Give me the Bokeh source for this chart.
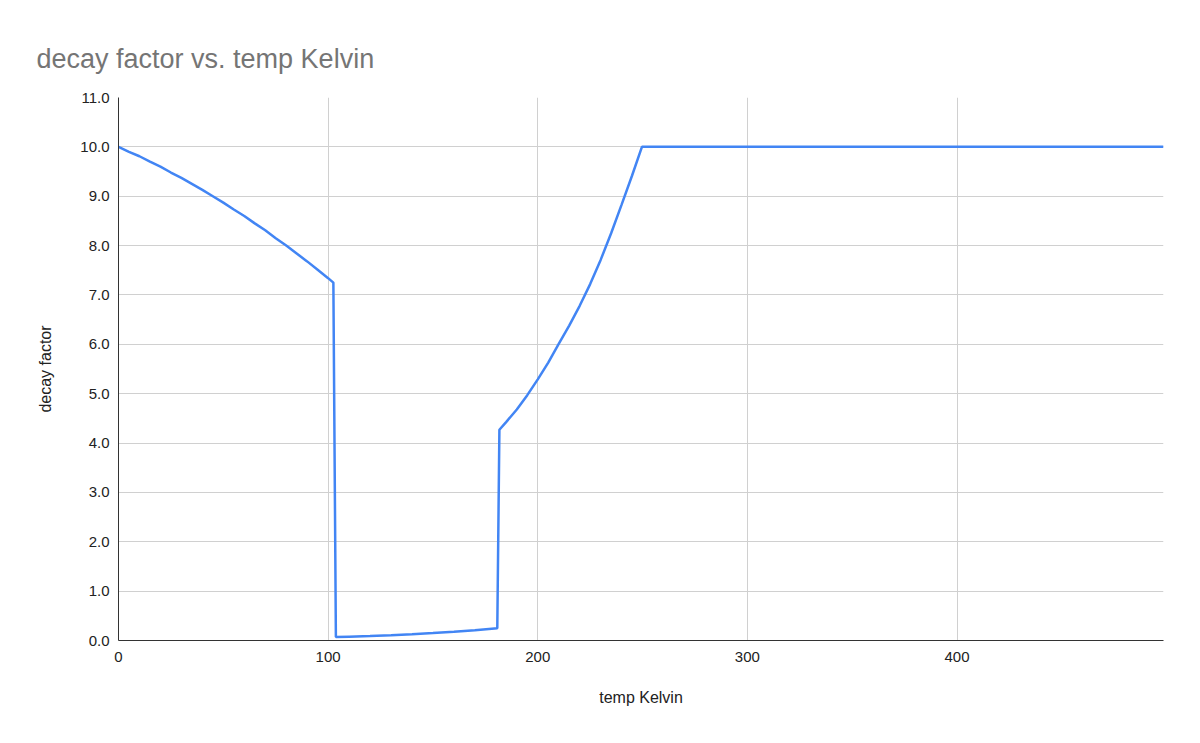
from bokeh.plotting import figure
from bokeh.models import Range1d, SingleIntervalTicker, FixedTicker, PrintfTickFormatter
from bokeh.embed import file_html
from bokeh.resources import INLINE

# data
temp_kelvin = [0, 5, 10, 15, 20, 25, 30, 35, 40, 45, 50, 55, 60, 65, 70, 75, 80, 85, 90, 95, 100, 102.5,
               103.7, 110, 120, 130, 140, 150, 160, 170, 180.7,
               181.7, 185, 190, 195, 200, 205, 210, 215, 220, 225, 230, 235, 240, 245, 249.7,
               498.5]
decay_factor = [10.0, 9.90, 9.81, 9.70, 9.60, 9.48, 9.37, 9.25, 9.13, 9.00, 8.87, 8.73, 8.60, 8.45,
                8.31, 8.15, 8.00, 7.84, 7.68, 7.51, 7.34, 7.25,
                0.07, 0.078, 0.091, 0.107, 0.127, 0.150, 0.176, 0.208, 0.25,
                4.27, 4.43, 4.68, 4.97, 5.29, 5.63, 6.01, 6.38, 6.78, 7.22, 7.71, 8.25, 8.83, 9.42, 10.0,
                10.0]
x_ticks = [0, 100, 200, 300, 400]

FONT = "Liberation Sans"

p = figure(width=1184, height=727, output_backend="svg", toolbar_location=None,
           x_range=Range1d(0, 498.5), y_range=Range1d(0, 11),
           min_border_left=118, min_border_right=21, min_border_top=97, min_border_bottom=87,
           title="decay factor vs. temp Kelvin")
p.outline_line_color = None
p.background_fill_color = "white"
p.border_fill_color = "white"

p.title.text_font = FONT
p.title.text_font_size = "27px"
p.title.text_font_style = "normal"
p.title.text_color = "#757575"
p.title.align = "left"
p.title.standoff = 48
p.title.offset = -82

p.line(temp_kelvin, decay_factor, line_color="#4285F4", line_width=2.5)

# axes
p.xaxis.ticker = FixedTicker(ticks=x_ticks)
p.yaxis.ticker = SingleIntervalTicker(interval=1)
p.yaxis.formatter = PrintfTickFormatter(format="%.1f")
p.xaxis.formatter = PrintfTickFormatter(format="%d")

for ax in (p.xaxis[0], p.yaxis[0]):
    ax.axis_line_color = "#333333"
    ax.axis_line_width = 1
    ax.major_tick_line_color = None
    ax.minor_tick_line_color = None
    ax.major_label_text_font = FONT
    ax.major_label_text_font_size = "15px"
    ax.major_label_text_color = "#222222"
    ax.axis_label_text_font = FONT
    ax.axis_label_text_font_size = "16px"
    ax.axis_label_text_font_style = "normal"
    ax.axis_label_text_color = "#222222"

p.xaxis.axis_label = "temp Kelvin"
p.yaxis.axis_label = "decay factor"
p.xaxis.major_label_standoff = 5
p.yaxis.major_label_standoff = 3
p.xaxis.axis_label_standoff = 24
p.yaxis.axis_label_standoff = 23

p.xgrid.grid_line_color = "#d0d0d0"
p.ygrid.grid_line_color = "#d0d0d0"
p.xgrid.ticker = FixedTicker(ticks=x_ticks)
p.ygrid.ticker = SingleIntervalTicker(interval=1)

open("out.html", "w").write(file_html(p, INLINE))
